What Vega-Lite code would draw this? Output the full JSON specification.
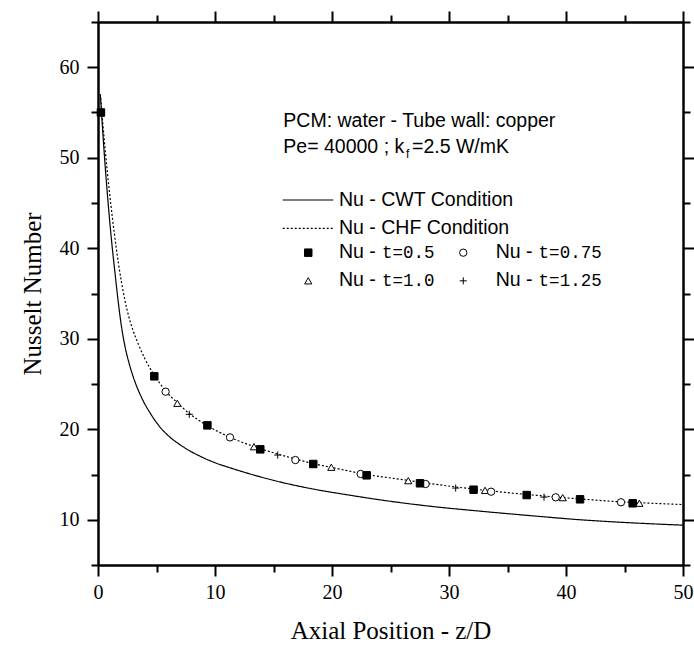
{
  "$schema": "https://vega.github.io/schema/vega-lite/v6.json",
  "width": 585,
  "height": 543,
  "autosize": {"type": "none"},
  "padding": {"left": 98, "top": 22, "right": 11, "bottom": 85},
  "background": "white",
  "config": {"view": {"stroke": null}},
  "datasets": {
    "curves": [
      {"z": 0.2, "nu": 57.0, "cond": "CWT"}, {"z": 0.4, "nu": 53.0, "cond": "CWT"}, {"z": 0.6, "nu": 49.3, "cond": "CWT"},
      {"z": 0.8, "nu": 46.0, "cond": "CWT"}, {"z": 1.0, "nu": 43.0, "cond": "CWT"}, {"z": 1.2, "nu": 40.3, "cond": "CWT"},
      {"z": 1.45, "nu": 37.3, "cond": "CWT"}, {"z": 1.7, "nu": 34.4, "cond": "CWT"}, {"z": 2.0, "nu": 31.4, "cond": "CWT"},
      {"z": 2.3, "nu": 29.2, "cond": "CWT"}, {"z": 2.7, "nu": 27.1, "cond": "CWT"}, {"z": 3.2, "nu": 25.1, "cond": "CWT"},
      {"z": 3.8, "nu": 23.3, "cond": "CWT"}, {"z": 4.5, "nu": 21.7, "cond": "CWT"}, {"z": 5.2, "nu": 20.4, "cond": "CWT"},
      {"z": 6.0, "nu": 19.3, "cond": "CWT"}, {"z": 7.0, "nu": 18.3, "cond": "CWT"}, {"z": 8.0, "nu": 17.5, "cond": "CWT"},
      {"z": 9.0, "nu": 16.85, "cond": "CWT"}, {"z": 10.0, "nu": 16.3, "cond": "CWT"}, {"z": 11.14, "nu": 15.8, "cond": "CWT"},
      {"z": 12.5, "nu": 15.25, "cond": "CWT"}, {"z": 13.56, "nu": 14.85, "cond": "CWT"}, {"z": 15.0, "nu": 14.35, "cond": "CWT"},
      {"z": 16.84, "nu": 13.8, "cond": "CWT"}, {"z": 19.0, "nu": 13.25, "cond": "CWT"}, {"z": 21.1, "nu": 12.8, "cond": "CWT"},
      {"z": 24.1, "nu": 12.2, "cond": "CWT"}, {"z": 28.0, "nu": 11.55, "cond": "CWT"}, {"z": 32.65, "nu": 10.95, "cond": "CWT"},
      {"z": 37.0, "nu": 10.45, "cond": "CWT"}, {"z": 41.2, "nu": 10.0, "cond": "CWT"}, {"z": 45.0, "nu": 9.7, "cond": "CWT"},
      {"z": 50.0, "nu": 9.4, "cond": "CWT"},
      {"z": 0.2, "nu": 57.0, "cond": "CHF"}, {"z": 0.5, "nu": 52.5, "cond": "CHF"}, {"z": 0.8, "nu": 48.4, "cond": "CHF"},
      {"z": 1.1, "nu": 44.8, "cond": "CHF"}, {"z": 1.4, "nu": 41.6, "cond": "CHF"}, {"z": 1.75, "nu": 38.3, "cond": "CHF"},
      {"z": 2.0, "nu": 36.3, "cond": "CHF"}, {"z": 2.31, "nu": 34.2, "cond": "CHF"}, {"z": 2.6, "nu": 32.6, "cond": "CHF"},
      {"z": 3.0, "nu": 30.9, "cond": "CHF"}, {"z": 3.45, "nu": 29.4, "cond": "CHF"}, {"z": 4.0, "nu": 27.8, "cond": "CHF"},
      {"z": 4.8, "nu": 26.0, "cond": "CHF"}, {"z": 5.8, "nu": 24.2, "cond": "CHF"}, {"z": 6.8, "nu": 22.9, "cond": "CHF"},
      {"z": 7.8, "nu": 21.75, "cond": "CHF"}, {"z": 9.35, "nu": 20.4, "cond": "CHF"}, {"z": 11.3, "nu": 19.1, "cond": "CHF"},
      {"z": 13.3, "nu": 18.1, "cond": "CHF"}, {"z": 15.4, "nu": 17.25, "cond": "CHF"}, {"z": 16.9, "nu": 16.7, "cond": "CHF"},
      {"z": 18.4, "nu": 16.2, "cond": "CHF"}, {"z": 19.9, "nu": 15.8, "cond": "CHF"}, {"z": 23.0, "nu": 15.0, "cond": "CHF"},
      {"z": 26.5, "nu": 14.35, "cond": "CHF"}, {"z": 28.0, "nu": 14.07, "cond": "CHF"}, {"z": 30.6, "nu": 13.62, "cond": "CHF"},
      {"z": 33.1, "nu": 13.25, "cond": "CHF"}, {"z": 36.6, "nu": 12.8, "cond": "CHF"}, {"z": 39.7, "nu": 12.45, "cond": "CHF"},
      {"z": 41.2, "nu": 12.3, "cond": "CHF"}, {"z": 44.7, "nu": 11.98, "cond": "CHF"}, {"z": 46.3, "nu": 11.88, "cond": "CHF"},
      {"z": 50.0, "nu": 11.68, "cond": "CHF"}
    ],
    "legendLines": [
      {"z": 15.79, "nu": 45.33, "cond": "CWT"}, {"z": 20.11, "nu": 45.33, "cond": "CWT"},
      {"z": 15.79, "nu": 42.2, "cond": "CHF"}, {"z": 20.11, "nu": 42.2, "cond": "CHF"}
    ],
    "points": [
      {"z": 0.25, "nu": 55.0, "t": "1.25"}, {"z": 7.8, "nu": 21.65, "t": "1.25"}, {"z": 15.36, "nu": 17.15, "t": "1.25"},
      {"z": 23.0, "nu": 14.95, "t": "1.25"}, {"z": 30.57, "nu": 13.5, "t": "1.25"}, {"z": 38.12, "nu": 12.5, "t": "1.25"},
      {"z": 45.7, "nu": 11.82, "t": "1.25"},
      {"z": 0.25, "nu": 55.0, "t": "1.0"}, {"z": 6.78, "nu": 22.87, "t": "1.0"}, {"z": 13.33, "nu": 18.07, "t": "1.0"},
      {"z": 19.94, "nu": 15.8, "t": "1.0"}, {"z": 26.52, "nu": 14.32, "t": "1.0"}, {"z": 33.08, "nu": 13.25, "t": "1.0"},
      {"z": 39.72, "nu": 12.44, "t": "1.0"}, {"z": 46.27, "nu": 11.82, "t": "1.0"},
      {"z": 0.25, "nu": 55.0, "t": "0.75"}, {"z": 5.78, "nu": 24.15, "t": "0.75"}, {"z": 11.28, "nu": 19.1, "t": "0.75"},
      {"z": 16.87, "nu": 16.6, "t": "0.75"}, {"z": 22.45, "nu": 15.06, "t": "0.75"}, {"z": 28.0, "nu": 13.95, "t": "0.75"},
      {"z": 33.6, "nu": 13.1, "t": "0.75"}, {"z": 39.12, "nu": 12.48, "t": "0.75"}, {"z": 44.7, "nu": 11.93, "t": "0.75"},
      {"z": 0.25, "nu": 55.0, "t": "0.5"}, {"z": 4.81, "nu": 25.85, "t": "0.5"}, {"z": 9.35, "nu": 20.43, "t": "0.5"},
      {"z": 13.87, "nu": 17.78, "t": "0.5"}, {"z": 18.4, "nu": 16.16, "t": "0.5"}, {"z": 22.96, "nu": 14.91, "t": "0.5"},
      {"z": 27.52, "nu": 14.03, "t": "0.5"}, {"z": 32.1, "nu": 13.32, "t": "0.5"}, {"z": 36.64, "nu": 12.73, "t": "0.5"},
      {"z": 41.2, "nu": 12.26, "t": "0.5"}, {"z": 45.7, "nu": 11.82, "t": "0.5"}
    ],
    "legendSyms": [
      {"z": 17.97, "nu": 39.51, "t": "0.5"}, {"z": 31.22, "nu": 39.51, "t": "0.75"},
      {"z": 17.97, "nu": 36.4, "t": "1.0"}, {"z": 31.22, "nu": 36.4, "t": "1.25"}
    ],
    "sansText": [
      {"z": 15.84, "nu": 53.36, "label": "PCM: water - Tube wall: copper"},
      {"z": 15.84, "nu": 50.49, "label": "Pe= 40000 ; k"},
      {"z": 26.84, "nu": 50.49, "label": "=2.5 W/mK"},
      {"z": 20.6, "nu": 44.67, "label": "Nu - CWT Condition"},
      {"z": 20.6, "nu": 41.57, "label": "Nu - CHF Condition"},
      {"z": 20.6, "nu": 38.9, "label": "Nu -"},
      {"z": 33.99, "nu": 38.9, "label": "Nu -"},
      {"z": 20.6, "nu": 35.8, "label": "Nu -"},
      {"z": 33.99, "nu": 35.8, "label": "Nu -"}
    ],
    "monoText": [
      {"z": 24.27, "nu": 38.9, "label": "t=0.5"},
      {"z": 37.66, "nu": 38.9, "label": "t=0.75"},
      {"z": 24.27, "nu": 35.8, "label": "t=1.0"},
      {"z": 37.66, "nu": 35.8, "label": "t=1.25"}
    ],
    "subText": [
      {"z": 26.32, "nu": 49.94, "label": "f"}
    ]
  },
  "resolve": {"axis": {"x": "independent", "y": "independent"}},
  "layer": [
    {
      "data": {"name": "curves"},
      "mark": {"type": "line", "color": "black", "strokeWidth": 1.2, "interpolate": "monotone"},
      "encoding": {
        "x": {
          "field": "z", "type": "quantitative",
          "scale": {"domain": [0, 50], "nice": false, "zero": false},
          "axis": {
            "orient": "bottom",
            "title": "Axial Position - z/D",
            "values": [0, 5, 10, 15, 20, 25, 30, 35, 40, 45, 50],
            "labelExpr": "datum.value % 10 === 0 ? datum.label : ''",
            "grid": false,
            "domainColor": "black", "domainWidth": 2.5,
            "tickColor": "black", "tickWidth": 2,
            "tickSize": {"condition": {"test": "datum.value % 10 === 0", "value": 11}, "value": 7},
            "labelFont": "Liberation Serif", "labelFontSize": 20, "labelColor": "black", "labelPadding": 6,
            "titleFont": "Liberation Serif", "titleFontSize": 25, "titleFontWeight": "normal", "titleColor": "black",
            "titlePadding": 16, "labelFlush": false, "labelOverlap": false
          }
        },
        "y": {
          "field": "nu", "type": "quantitative",
          "scale": {"domain": [5, 65], "nice": false, "zero": false},
          "axis": {
            "orient": "left",
            "title": "Nusselt Number",
            "values": [5, 10, 15, 20, 25, 30, 35, 40, 45, 50, 55, 60, 65],
            "labelExpr": "datum.value % 10 === 0 && datum.value < 65 ? datum.label : ''",
            "grid": false,
            "domainColor": "black", "domainWidth": 2.5,
            "tickColor": "black", "tickWidth": 2,
            "tickSize": {"condition": {"test": "datum.value % 10 === 0", "value": 11}, "value": 7},
            "labelFont": "Liberation Serif", "labelFontSize": 20, "labelColor": "black", "labelPadding": 8,
            "titleFont": "Liberation Serif", "titleFontSize": 25, "titleFontWeight": "normal", "titleColor": "black",
            "titlePadding": 14, "labelFlush": false, "labelOverlap": false
          }
        },
        "detail": {"field": "cond"},
        "strokeDash": {
          "field": "cond", "type": "nominal",
          "scale": {"domain": ["CWT", "CHF"], "range": [[1, 0], [2, 2]]},
          "legend": null
        }
      }
    },
    {
      "data": {"name": "legendLines"},
      "mark": {"type": "line", "color": "black", "strokeWidth": 1.2},
      "encoding": {
        "x": {
          "field": "z", "type": "quantitative",
          "axis": {
            "orient": "top", "title": null,
            "values": [0, 5, 10, 15, 20, 25, 30, 35, 40, 45, 50],
            "labels": false, "grid": false,
            "domainColor": "black", "domainWidth": 2.5,
            "tickColor": "black", "tickWidth": 2,
            "tickSize": {"condition": {"test": "datum.value % 10 === 0", "value": 11}, "value": 7}
          }
        },
        "y": {
          "field": "nu", "type": "quantitative",
          "axis": {
            "orient": "right", "title": null,
            "values": [5, 10, 15, 20, 25, 30, 35, 40, 45, 50, 55, 60, 65],
            "labels": false, "grid": false,
            "domainColor": "black", "domainWidth": 2.5,
            "tickColor": "black", "tickWidth": 2,
            "tickSize": {"condition": {"test": "datum.value % 10 === 0", "value": 11}, "value": 7}
          }
        },
        "detail": {"field": "cond"},
        "strokeDash": {
          "field": "cond", "type": "nominal",
          "scale": {"domain": ["CWT", "CHF"], "range": [[1, 0], [2, 2]]},
          "legend": null
        }
      }
    },
    {
      "data": {"name": "points"},
      "mark": {"type": "point", "filled": false, "stroke": "black", "strokeWidth": 1, "opacity": 1},
      "encoding": {
        "x": {"field": "z", "type": "quantitative", "axis": null},
        "y": {"field": "nu", "type": "quantitative", "axis": null},
        "shape": {
          "field": "t", "type": "nominal",
          "scale": {"domain": ["0.5", "0.75", "1.0", "1.25"], "range": ["square", "circle", "triangle-up", "M-1,0H1M0,-1V1"]},
          "legend": null
        },
        "fill": {
          "field": "t", "type": "nominal",
          "scale": {"domain": ["0.5", "0.75", "1.0", "1.25"], "range": ["black", "white", "white", "transparent"]},
          "legend": null
        },
        "size": {
          "field": "t", "type": "nominal",
          "scale": {"domain": ["0.5", "0.75", "1.0", "1.25"], "range": [56, 50, 110, 100]},
          "legend": null
        }
      }
    },
    {
      "data": {"name": "legendSyms"},
      "mark": {"type": "point", "filled": false, "stroke": "black", "strokeWidth": 1, "opacity": 1},
      "encoding": {
        "x": {"field": "z", "type": "quantitative", "axis": null},
        "y": {"field": "nu", "type": "quantitative", "axis": null},
        "shape": {"field": "t", "type": "nominal", "legend": null},
        "fill": {"field": "t", "type": "nominal", "legend": null},
        "size": {"field": "t", "type": "nominal", "legend": null}
      }
    },
    {
      "data": {"name": "sansText"},
      "mark": {"type": "text", "align": "left", "baseline": "alphabetic", "font": "Liberation Sans", "fontSize": 19.5, "color": "black"},
      "encoding": {
        "x": {"field": "z", "type": "quantitative", "axis": null},
        "y": {"field": "nu", "type": "quantitative", "axis": null},
        "text": {"field": "label"}
      }
    },
    {
      "data": {"name": "monoText"},
      "mark": {"type": "text", "align": "left", "baseline": "alphabetic", "font": "Liberation Mono", "fontSize": 17.5, "color": "black"},
      "encoding": {
        "x": {"field": "z", "type": "quantitative", "axis": null},
        "y": {"field": "nu", "type": "quantitative", "axis": null},
        "text": {"field": "label"}
      }
    },
    {
      "data": {"name": "subText"},
      "mark": {"type": "text", "align": "left", "baseline": "alphabetic", "font": "Liberation Sans", "fontSize": 12, "color": "black"},
      "encoding": {
        "x": {"field": "z", "type": "quantitative", "axis": null},
        "y": {"field": "nu", "type": "quantitative", "axis": null},
        "text": {"field": "label"}
      }
    }
  ]
}
